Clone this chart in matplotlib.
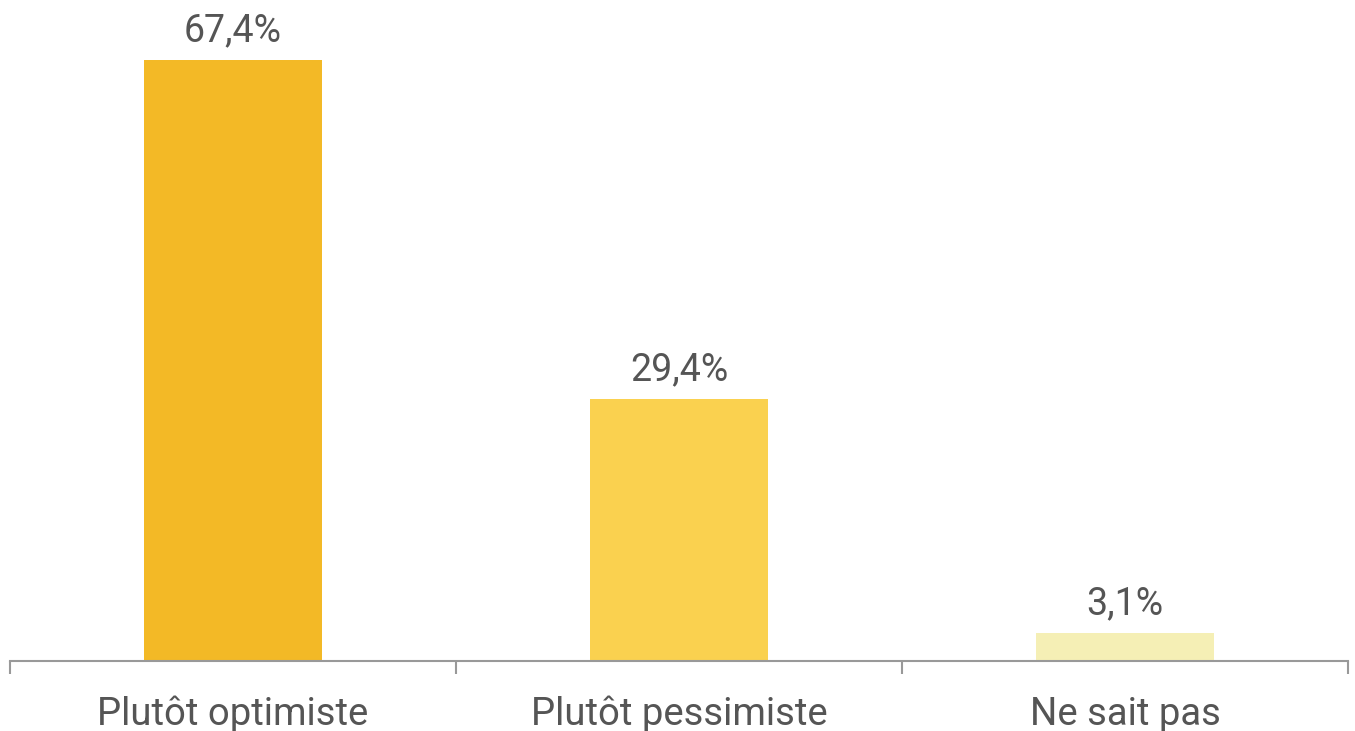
import matplotlib.pyplot as plt
from matplotlib.ticker import FixedLocator

# données
categories = ["Plutôt optimiste", "Plutôt pessimiste", "Ne sait pas"]
values = [67.4, 29.4, 3.1]
labels = ["67,4%", "29,4%", "3,1%"]
colors = ["#F3B926", "#FAD14F", "#F5EFB5"]

plt.rcParams['font.family'] = ['Roboto', 'DejaVu Sans']

fig = plt.figure(figsize=(13.55, 7.31), dpi=100)
ax = fig.add_axes([10 / 1355, 70 / 731, 1338 / 1355, 661 / 731])

x = range(len(categories))
bars = ax.bar(x, values, width=0.4, color=colors)

for b, lab in zip(bars, labels):
    ax.annotate(lab, (b.get_x() + b.get_width() / 2, b.get_height()),
                xytext=(0, 11), textcoords="offset pixels",
                ha="center", va="bottom", fontsize=27, color="#555555")

ax.set_xlim(-0.5, 2.5)
ax.set_ylim(0, 74.13)

# ticks aux limites, libellés au centre
ax.xaxis.set_major_locator(FixedLocator([-0.5, 0.5, 1.5, 2.5]))
ax.xaxis.set_minor_locator(FixedLocator([0, 1, 2]))
ax.set_xticklabels([], minor=False)
ax.set_xticklabels(categories, minor=True, fontsize=27.5, color="#555555")
ax.tick_params(axis="x", which="major", length=9, width=1.5, color="#999999")
ax.tick_params(axis="x", which="minor", length=0, pad=25)

ax.set_yticks([])
for s in ["top", "right", "left"]:
    ax.spines[s].set_visible(False)
ax.spines["bottom"].set_color("#999999")
ax.spines["bottom"].set_linewidth(1.5)

fig.savefig("out.png", dpi=100)
